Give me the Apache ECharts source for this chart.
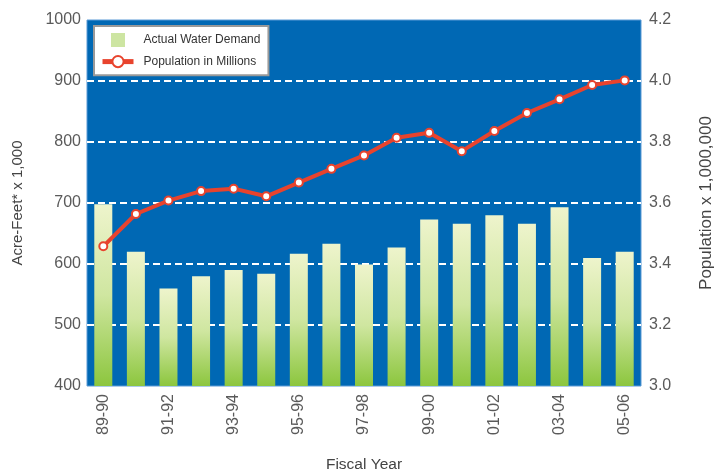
<!DOCTYPE html>
<html><head><meta charset="utf-8">
<script src="https://cdn.jsdelivr.net/npm/echarts@6/dist/echarts.min.js"></script>
<style>html,body{margin:0;padding:0;background:#fff;}#c{width:716px;height:469px;}</style>
</head><body><div id="c"></div>
<script>
var categories = ['89-90','90-91','91-92','92-93','93-94','94-95','95-96','96-97','97-98','98-99','99-00','00-01','01-02','02-03','03-04','04-05','05-06'];
var waterDemand = [698, 620, 560, 580, 590, 584, 617, 633, 599, 627, 673, 666, 680, 666, 693, 610, 620];
var population = [3.458, 3.564, 3.608, 3.639, 3.647, 3.622, 3.667, 3.712, 3.756, 3.814, 3.830, 3.770, 3.836, 3.895, 3.940, 3.987, 4.002];
var leftTicks = {min: 400, max: 1000, interval: 100};
var rightTicks = {min: 3.0, max: 4.2, interval: 0.2};

var chart = echarts.init(document.getElementById('c'));
var labelFont = {color: '#5a5a5a', fontSize: 16, fontFamily: 'Liberation Sans, Arial, sans-serif'};
chart.setOption({
  animation: false,
  textStyle: {fontFamily: 'Liberation Sans, Arial, sans-serif'},
  grid: {left: 87, right: 75, top: 20, bottom: 83, outerBoundsMode: 'none', containLabel: false, show: true, backgroundColor: '#0068b4', borderColor: '#5a9ad6', borderWidth: 1},
  legend: {
    orient: 'vertical', left: 94, top: 26, padding: [7, 8, 7, 6], itemGap: 8,
    backgroundColor: '#fff', borderColor: '#999', borderWidth: 2,
    itemWidth: 31, itemHeight: 14,
    textStyle: {fontSize: 12, color: '#333', padding: [0, 0, 0, 5], fontFamily: 'Liberation Sans, Arial, sans-serif'},
    data: [
      {name: 'Actual Water Demand', icon: 'path://M9,0 L23,0 L23,14 L9,14 Z', itemStyle: {color: '#cde5a2'}},
      {name: 'Population in Millions', itemStyle: {color: '#ffffff', borderColor: '#e8432d', borderWidth: 2}, lineStyle: {color: '#e8432d', width: 5}}
    ]
  },
  xAxis: {
    type: 'category', data: categories, boundaryGap: true,
    name: 'Fiscal Year', nameLocation: 'middle', nameGap: 71,
    nameTextStyle: {color: '#444', fontSize: 15.5},
    axisLine: {show: false}, axisTick: {show: false},
    axisLabel: Object.assign({interval: 1, rotate: 90, margin: 8}, labelFont)
  },
  yAxis: [
    {
      type: 'value', min: leftTicks.min, max: leftTicks.max, interval: leftTicks.interval,
      name: 'Acre-Feet* x 1,000', nameLocation: 'middle', nameGap: 62, nameRotate: 90,
      nameTextStyle: {color: '#444', fontSize: 15},
      axisLine: {show: false}, axisTick: {show: false},
      axisLabel: Object.assign({margin: 6, formatter: function (v) { return String(v); }}, labelFont),
      splitLine: {show: true, showMinLine: false, showMaxLine: false, lineStyle: {color: '#ffffff', width: 1.8, type: [7, 4]}}
    },
    {
      type: 'value', min: rightTicks.min, max: rightTicks.max, interval: rightTicks.interval,
      name: 'Population x 1,000,000', nameLocation: 'middle', nameGap: 57, nameRotate: 90,
      nameTextStyle: {color: '#444', fontSize: 17},
      axisLine: {show: false}, axisTick: {show: false},
      axisLabel: Object.assign({margin: 8, formatter: function (v) { return v.toFixed(1); }}, labelFont),
      splitLine: {show: false}
    }
  ],
  series: [
    {
      name: 'Actual Water Demand', type: 'bar', yAxisIndex: 0, data: waterDemand, barWidth: 18,
      itemStyle: {color: new echarts.graphic.LinearGradient(0, 0, 0, 1, [
        {offset: 0, color: '#eef4cc'}, {offset: 0.5, color: '#cfe6a0'}, {offset: 1, color: '#8cc63e'}
      ])}
    },
    {
      name: 'Population in Millions', type: 'line', yAxisIndex: 1, data: population,
      symbol: 'circle', symbolSize: 8, z: 5,
      lineStyle: {color: '#e8432d', width: 4},
      itemStyle: {color: '#ffffff', borderColor: '#e8432d', borderWidth: 2}
    }
  ]
});
</script></body></html>
